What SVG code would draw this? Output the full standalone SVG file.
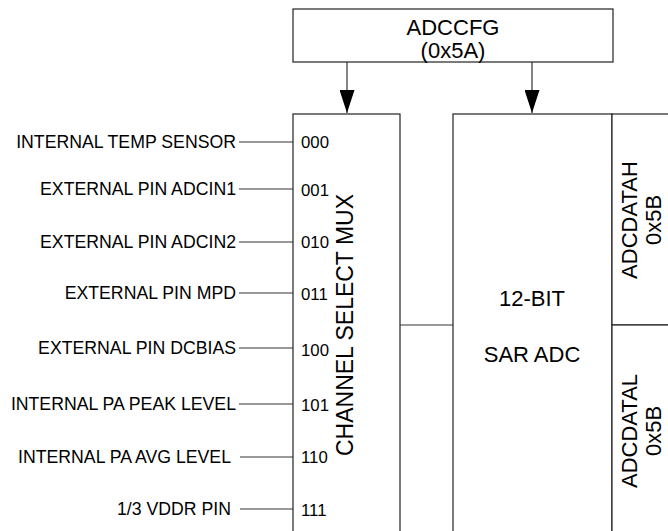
<svg xmlns="http://www.w3.org/2000/svg" width="668" height="531" viewBox="0 0 668 531">
<style>
.box{fill:#fff;stroke:#222;stroke-width:1.2}
.wire{stroke:#333;stroke-width:1.2;fill:none}
.t{font-family:"Liberation Sans",Arial,sans-serif;fill:#000}
.lbl{font-size:17.7px;text-anchor:end}
.code{font-size:16.8px}
.big{font-size:22px;text-anchor:middle}
.mux{font-size:23px;text-anchor:middle}
</style>
<defs>
<marker id="ah" markerWidth="23" markerHeight="15" refX="23" refY="7.5" orient="auto" markerUnits="userSpaceOnUse" viewBox="0 0 23 15">
<path d="M0,0 L23,7.5 L0,15 Z" fill="#000"/>
</marker>
</defs>
<rect width="668" height="531" fill="#fff"/>
<g id="adccfg">
<rect class="box" x="293" y="9" width="320" height="53"/>
<text class="t big" x="453" y="35">ADCCFG</text>
<text class="t big" x="453" y="58">(0x5A)</text>
</g>
<g id="mux">
<rect class="box" x="293" y="114" width="107" height="430"/>
<text class="t mux" transform="translate(353,325) rotate(-90)">CHANNEL SELECT MUX</text>
<text class="t code" x="301" y="148">000</text>
<text class="t code" x="301" y="196">001</text>
<text class="t code" x="301" y="248">010</text>
<text class="t code" x="301" y="300">011</text>
<text class="t code" x="301" y="356">100</text>
<text class="t code" x="301" y="411">101</text>
<text class="t code" x="301" y="463">110</text>
<text class="t code" x="301" y="516">111</text>
</g>
<g id="adc">
<rect class="box" x="453" y="114" width="159" height="430"/>
<text class="t big" x="532" y="306">12-BIT</text>
<text class="t big" x="532" y="362">SAR ADC</text>
</g>
<g id="adcdatah">
<rect class="box" x="612" y="114" width="70" height="211"/>
<text class="t big" transform="translate(637,220) rotate(-90)">ADCDATAH</text>
<text class="t big" transform="translate(661,220) rotate(-90)">0x5B</text>
</g>
<g id="adcdatal">
<rect class="box" x="612" y="325" width="70" height="219"/>
<text class="t big" transform="translate(637,431) rotate(-90)">ADCDATAL</text>
<text class="t big" transform="translate(661,431) rotate(-90)">0x5B</text>
</g>
<g id="inputs">
<text class="t lbl" x="236" y="148">INTERNAL TEMP SENSOR</text>
<text class="t lbl" x="236" y="195">EXTERNAL PIN ADCIN1</text>
<text class="t lbl" x="236" y="248">EXTERNAL PIN ADCIN2</text>
<text class="t lbl" x="236" y="299">EXTERNAL PIN MPD</text>
<text class="t lbl" x="236" y="354">EXTERNAL PIN DCBIAS</text>
<text class="t lbl" x="236" y="410">INTERNAL PA PEAK LEVEL</text>
<text class="t lbl" x="231" y="463">INTERNAL PA AVG LEVEL</text>
<text class="t lbl" x="231" y="515">1/3 VDDR PIN</text>
</g>
<g id="connectors">
<path class="wire" d="M239,142 H293 M239,189 H293 M239,242 H293 M239,293 H293 M239,348 H293 M239,404 H293 M240,457 H293 M240,509 H293"/>
<path class="wire" d="M400,325 H453"/>
<path class="wire" d="M347,62 V113" marker-end="url(#ah)"/>
<path class="wire" d="M532,62 V113" marker-end="url(#ah)"/>
</g>
</svg>
